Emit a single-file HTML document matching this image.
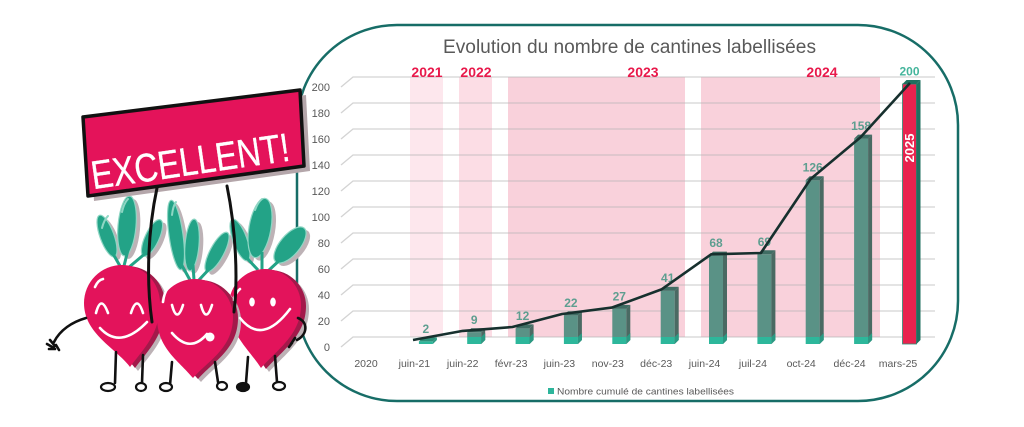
<!DOCTYPE html>
<html><head><meta charset="utf-8"><style>
html,body{margin:0;padding:0;background:#fff;width:1024px;height:427px;overflow:hidden}
svg{display:block}
text{font-family:"Liberation Sans",sans-serif}
</style></head><body>
<svg width="1024" height="427" viewBox="0 0 1024 427" xmlns="http://www.w3.org/2000/svg">
<rect width="1024" height="427" fill="#fff"/>
<!-- frame -->
<rect x="297" y="25" width="661" height="376" rx="100" ry="100" fill="#fff" stroke="#176d67" stroke-width="2.5"/>
<!-- title -->
<text x="629.5" y="53" font-size="19" fill="#595959" text-anchor="middle" textLength="373" lengthAdjust="spacingAndGlyphs">Evolution du nombre de cantines labellisées</text>
<!-- bands -->
<rect x="410" y="77" width="33" height="260" fill="#fde7ed"/>
<rect x="459" y="77" width="33" height="260" fill="#fcdde5"/>
<rect x="508" y="77" width="177" height="260" fill="#f9d1db"/>
<rect x="701" y="77" width="179" height="260" fill="#f9d1db"/>
<!-- gridlines -->
<g stroke="#b5b5b5" stroke-opacity="0.6" stroke-width="1.3" fill="none">
<path d="M341 87L353 77H935"/><path d="M341 113L353 103H935"/><path d="M341 139L353 129H935"/>
<path d="M341 165L353 155H935"/><path d="M341 191L353 181H935"/><path d="M341 217L353 207H935"/>
<path d="M341 243L353 233H935"/><path d="M341 269L353 259H935"/><path d="M341 295L353 285H935"/>
<path d="M341 321L353 311H935"/><path d="M341 347L353 337H935"/>
</g>
<!-- y labels -->
<g font-size="11" fill="#595959" text-anchor="end">
<text x="330" y="91">200</text><text x="330" y="117">180</text><text x="330" y="143">160</text>
<text x="330" y="169">140</text><text x="330" y="195">120</text><text x="330" y="221">100</text>
<text x="330" y="247">80</text><text x="330" y="273">60</text><text x="330" y="299">40</text>
<text x="330" y="325">20</text><text x="330" y="351">0</text>
</g>
<!-- year labels -->
<g font-size="14" font-weight="bold" fill="#e8194b" text-anchor="middle">
<text x="427" y="77">2021</text><text x="476" y="77">2022</text><text x="643" y="77">2023</text><text x="822" y="77">2024</text>
</g>
<!-- bars -->
<g>
<g fill="#5a9286">
<rect x="467.2" y="332.3" width="14" height="4.7"/>
<rect x="515.6" y="328.4" width="14" height="8.6"/>
<rect x="563.9" y="315.4" width="14" height="21.6"/>
<rect x="612.3" y="308.9" width="14" height="28.1"/>
<rect x="660.7" y="290.7" width="14" height="46.3"/>
<rect x="709.0" y="255.6" width="14" height="81.4"/>
<rect x="757.4" y="254.3" width="14" height="82.7"/>
<rect x="805.7" y="180.2" width="14" height="156.8"/>
<rect x="854.1" y="138.6" width="14" height="198.4"/>
</g>
<g fill="#2db79b">
<rect x="418.9" y="341.4" width="14" height="2.6"/>
<rect x="467.2" y="337" width="14" height="7"/>
<rect x="515.6" y="337" width="14" height="7"/>
<rect x="563.9" y="337" width="14" height="7"/>
<rect x="612.3" y="337" width="14" height="7"/>
<rect x="660.7" y="337" width="14" height="7"/>
<rect x="709.0" y="337" width="14" height="7"/>
<rect x="757.4" y="337" width="14" height="7"/>
<rect x="805.7" y="337" width="14" height="7"/>
<rect x="854.1" y="337" width="14" height="7"/>
</g>
<g fill="#4a6a63">
<polygon points="481.2,332.3 485.2,328.3 485.2,340 481.2,344"/>
<polygon points="529.6,328.4 533.6,324.4 533.6,340 529.6,344"/>
<polygon points="577.9,315.4 581.9,311.4 581.9,340 577.9,344"/>
<polygon points="626.3,308.9 630.3,304.9 630.3,340 626.3,344"/>
<polygon points="674.7,290.7 678.7,286.7 678.7,340 674.7,344"/>
<polygon points="723,255.6 727,251.6 727,340 723,344"/>
<polygon points="771.4,254.3 775.4,250.3 775.4,340 771.4,344"/>
<polygon points="819.7,180.2 823.7,176.2 823.7,340 819.7,344"/>
<polygon points="868.1,138.6 872.1,134.6 872.1,340 868.1,344"/>
</g>
<g fill="#2a9a83">
<polygon points="432.9,341.4 436.9,337.4 436.9,340 432.9,344"/>
<polygon points="481.2,337 485.2,333 485.2,340 481.2,344"/>
<polygon points="529.6,337 533.6,333 533.6,340 529.6,344"/>
<polygon points="577.9,337 581.9,333 581.9,340 577.9,344"/>
<polygon points="626.3,337 630.3,333 630.3,340 626.3,344"/>
<polygon points="674.7,337 678.7,333 678.7,340 674.7,344"/>
<polygon points="723,337 727,333 727,340 723,344"/>
<polygon points="771.4,337 775.4,333 775.4,340 771.4,344"/>
<polygon points="819.7,337 823.7,333 823.7,340 819.7,344"/>
<polygon points="868.1,337 872.1,333 872.1,340 868.1,344"/>
</g>
<g fill="#3f6d64">
<polygon points="418.9,341.4 422.9,337.4 436.9,337.4 432.9,341.4" fill="#2f8e78"/>
<polygon points="467.2,332.3 471.2,328.3 485.2,328.3 481.2,332.3"/>
<polygon points="515.6,328.4 519.6,324.4 533.6,324.4 529.6,328.4"/>
<polygon points="563.9,315.4 567.9,311.4 581.9,311.4 577.9,315.4"/>
<polygon points="612.3,308.9 616.3,304.9 630.3,304.9 626.3,308.9"/>
<polygon points="660.7,290.7 664.7,286.7 678.7,286.7 674.7,290.7"/>
<polygon points="709,255.6 713,251.6 727,251.6 723,255.6"/>
<polygon points="757.4,254.3 761.4,250.3 775.4,250.3 771.4,254.3"/>
<polygon points="805.7,180.2 809.7,176.2 823.7,176.2 819.7,180.2"/>
<polygon points="854.1,138.6 858.1,134.6 872.1,134.6 868.1,138.6"/>
</g>
<rect x="902.5" y="84" width="14" height="260" fill="#e8234e" stroke="#2a8f78" stroke-width="0.8"/>
<polygon points="916.5,84 920.5,80 920.5,340 916.5,344" fill="#1f6f5f"/>
<polygon points="902.5,84 906.5,80 920.5,80 916.5,84" fill="#1f6f5f"/>
<text transform="translate(914 148) rotate(-90)" x="0" y="0" font-size="13" font-weight="bold" fill="#fff" text-anchor="middle">2025</text>
</g>
<!-- data labels -->
<g font-size="12" font-weight="bold" fill="#5e9e90" text-anchor="middle">
<text x="425.9" y="332.9">2</text><text x="474.2" y="323.8">9</text><text x="522.6" y="319.9">12</text>
<text x="570.9" y="306.9">22</text><text x="619.3" y="300.4">27</text><text x="667.7" y="282.2">41</text>
<text x="716" y="247.1">68</text><text x="764.4" y="245.8">69</text><text x="812.7" y="171.7">126</text>
<text x="861.1" y="130.1">158</text><text x="909.5" y="75.5" fill="#45b59c">200</text>
</g>
<!-- line -->
<polyline points="413,340 462.7,330.9 512.4,327 562.1,314 611.8,307.6 661.5,289.4 711.2,254.3 760.9,253 810.6,179 860.3,137.5 910,83" fill="none" stroke="#17302e" stroke-width="2.6" stroke-linejoin="round"/>
<!-- category labels -->
<g font-size="10.5" fill="#595959" text-anchor="middle">
<text x="366" y="367">2020</text><text x="414.4" y="367">juin-21</text><text x="462.7" y="367">juin-22</text>
<text x="511.1" y="367">févr-23</text><text x="559.4" y="367">juin-23</text><text x="607.8" y="367">nov-23</text>
<text x="656.2" y="367">déc-23</text><text x="704.5" y="367">juin-24</text><text x="752.9" y="367">juil-24</text>
<text x="801.2" y="367">oct-24</text><text x="849.6" y="367">déc-24</text><text x="898" y="367">mars-25</text>
</g>
<!-- legend -->
<rect x="548" y="388" width="6" height="6" fill="#2db59b"/>
<text x="557" y="394.5" font-size="9.5" fill="#595959" textLength="177" lengthAdjust="spacingAndGlyphs">Nombre cumulé de cantines labellisées</text>

<!-- ===== MASCOT ===== -->
<g fill="#bdb2b6">
<ellipse cx="111" cy="239" rx="7" ry="22" transform="rotate(-20 111 239)"/>
<ellipse cx="131" cy="229" rx="9" ry="30" transform="rotate(5 131 229)"/>
<ellipse cx="156" cy="241" rx="7" ry="20" transform="rotate(25 156 241)"/>
<ellipse cx="180" cy="238" rx="7" ry="35" transform="rotate(-8 180 238)"/>
<ellipse cx="196" cy="248" rx="7" ry="26" transform="rotate(5 196 248)"/>
<ellipse cx="221" cy="255" rx="7" ry="22" transform="rotate(28 221 255)"/>
<ellipse cx="244" cy="243" rx="7" ry="22" transform="rotate(-20 244 243)"/>
<ellipse cx="264" cy="231" rx="11" ry="30" transform="rotate(10 264 231)"/>
<ellipse cx="294" cy="248" rx="10" ry="22" transform="rotate(40 294 248)"/>
</g>
<g fill="#23a387" stroke="#8fd6c4" stroke-width="1.2">
<ellipse cx="107" cy="236" rx="7" ry="22" transform="rotate(-20 107 236)"/>
<ellipse cx="127" cy="226" rx="9" ry="30" transform="rotate(5 127 226)"/>
<ellipse cx="152" cy="238" rx="7" ry="20" transform="rotate(25 152 238)"/>
<ellipse cx="176" cy="235" rx="7" ry="35" transform="rotate(-8 176 235)"/>
<ellipse cx="192" cy="245" rx="7" ry="26" transform="rotate(5 192 245)"/>
<ellipse cx="217" cy="252" rx="7" ry="22" transform="rotate(28 217 252)"/>
<ellipse cx="240" cy="240" rx="7" ry="22" transform="rotate(-20 240 240)"/>
<ellipse cx="260" cy="228" rx="11" ry="30" transform="rotate(10 260 228)"/>
<ellipse cx="290" cy="245" rx="10" ry="22" transform="rotate(40 290 245)"/>
</g>
<g stroke="#8fd6c4" stroke-width="2" fill="none" stroke-linecap="round">
<path d="M102,228 Q104,220 108,216"/><path d="M122,212 Q124,203 128,199"/>
<path d="M172,215 Q173,206 176,202"/><path d="M255,210 Q258,202 262,199"/>
</g>
<g stroke="#23a387" stroke-width="3" fill="none">
<path d="M112 252L120 266"/><path d="M128 250L124 266"/><path d="M147 252L128 268"/>
<path d="M180 262L190 280"/><path d="M193 265L194 280"/><path d="M212 266L198 281"/>
<path d="M245 256L258 270"/><path d="M262 252L262 270"/><path d="M282 258L268 271"/>
</g>
<!-- left beet -->
<g>
<path d="M92,307 A38,38 0 0 1 168,307 C168,338 152,352 138,371 C124,352 92,338 92,307Z" fill="#bdb2b6"/>
<path d="M89,304 A38,38 0 0 1 165,304 C165,335 149,349 135,368 C121,349 89,335 89,304Z" fill="#a3194a"/>
<path d="M84,303 A38,38 0 0 1 160,303 C160,334 144,348 130,367 C116,348 84,334 84,303Z" fill="#e3135b"/>
</g>
<!-- right beet -->
<g>
<path d="M237,309 A36,36 0 0 1 309,309 C309,338 287,352 269,372 C256,352 237,338 237,309Z" fill="#bdb2b6"/>
<path d="M234,306 A36,36 0 0 1 306,306 C306,335 284,349 266,369 C253,349 234,335 234,306Z" fill="#a3194a"/>
<path d="M229,305 A36,36 0 0 1 301,305 C301,334 279,348 261,368 C248,348 229,334 229,305Z" fill="#e3135b"/>
</g>
<!-- middle beet -->
<g>
<path d="M165,321 A38,38 0 0 1 241,321 C241,352 217,364 201,382 C186,364 165,352 165,321Z" fill="#bdb2b6"/>
<path d="M162,318 A38,38 0 0 1 238,318 C238,349 214,361 198,379 C183,361 162,349 162,318Z" fill="#a3194a"/>
<path d="M157,317 A38,38 0 0 1 233,317 C233,348 209,360 193,378 C178,360 157,348 157,317Z" fill="#e3135b"/>
</g>
<!-- faces -->
<g stroke="#fff" stroke-width="2.6" fill="none" stroke-linecap="round">
<path d="M95,287 Q98,280 103,279"/>
<path d="M96,313 Q101,294 108,313"/><path d="M131,313 Q137,294 143,313"/>
<path d="M100,328 Q120,350 147,322"/>
<path d="M163,302 Q164,293 168,288"/>
<path d="M172,305 Q177,324 183,305"/><path d="M201,305 Q206,324 212,305"/>
<path d="M172,333 Q190,354 207,334"/>
<path d="M234,300 Q235,293 240,289"/>
<path d="M240,318 Q262,346 290,309"/>
</g>
<circle cx="210" cy="337" r="4.5" fill="#fff"/>
<ellipse cx="252" cy="302" rx="2.8" ry="4.5" fill="#fff"/>
<ellipse cx="273" cy="302" rx="2.8" ry="4.5" fill="#fff"/>
<!-- legs, arms -->
<g stroke="#111" stroke-width="2.6" fill="none" stroke-linecap="round">
<path d="M116,352L115,383"/><path d="M143,355L142,383"/>
<path d="M172,362L170,385"/><path d="M215,362L218,382"/>
<path d="M248,357L246,383"/><path d="M275,356L277,382"/>
<path d="M86,318 C72,322 60,330 54,342"/>
<path d="M50,340L55,346M47,344L54,348M49,349L55,349M56,345L59,350"/>
<path d="M298,318 C308,322 308,334 297,340"/>
<path d="M295,338L291,344M292,343L289,347"/>
</g>
<g stroke="#111" stroke-width="2.2" fill="#fff">
<ellipse cx="108" cy="387" rx="7" ry="4"/><ellipse cx="141" cy="387" rx="5" ry="4"/>
<ellipse cx="166" cy="387" rx="6" ry="4"/><ellipse cx="222" cy="386" rx="5" ry="4"/>
<ellipse cx="243" cy="387" rx="6" ry="4" fill="#111"/><ellipse cx="279" cy="386" rx="6" ry="4"/>
</g>
<!-- sign -->
<polygon points="89,122 306,95 310,171 94,201" fill="#b4a6aa"/>
<polygon points="83,117 300,90 304,166 88,196" fill="#e4135a" stroke="#111" stroke-width="3.5" stroke-linejoin="round"/>
<text transform="rotate(-8.3 190 160)" x="190" y="175" font-size="40" fill="#fff" stroke="#fff" stroke-width="0.3" text-anchor="middle" textLength="200" lengthAdjust="spacingAndGlyphs">EXCELLENT!</text>
<!-- poles -->
<g stroke="#111" stroke-width="3" fill="none" stroke-linecap="round">
<path d="M157,188 C148,230 146,280 152,322"/>
<path d="M227,186 C236,230 238,280 234,312"/>
</g>
</svg>
</body></html>
